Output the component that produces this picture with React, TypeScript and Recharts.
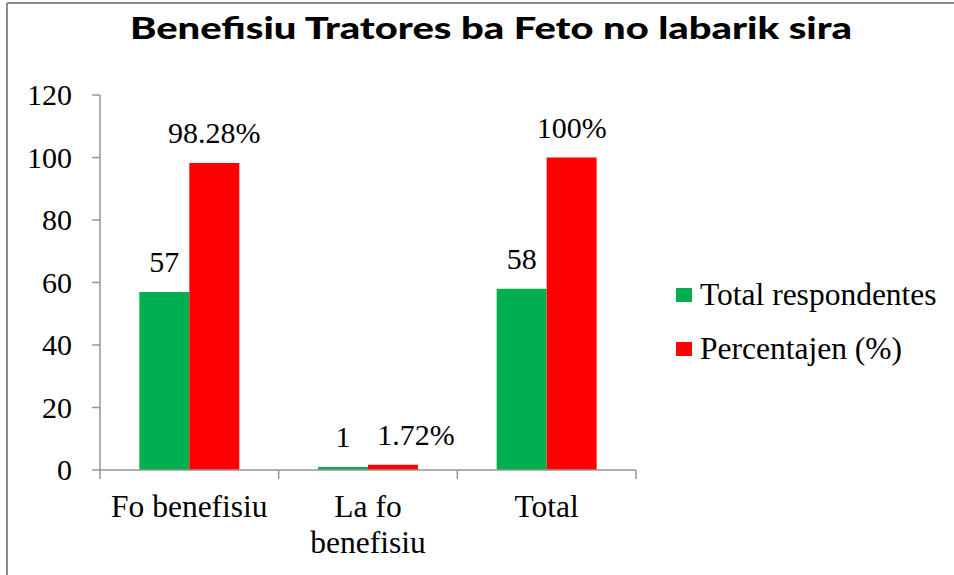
import { BarChart, Bar, XAxis, YAxis, Legend, LabelList } from 'recharts';

const categories = ['Fo benefisiu', 'La fo benefisiu', 'Total'];
const totalRespondentes = [57, 1, 58];
const percentajen = [98.28, 1.72, 100];
const yTicks = [0, 20, 40, 60, 80, 100, 120];

const GREEN = '#00B050';
const RED = '#FF0000';
const AXIS = '#969696';
const SERIF = '"Liberation Serif", serif';
const TXT = { fontFamily: SERIF, fontSize: 30 };

const W = 954;
const H = 575;
const MARGIN = { top: 95, right: 48, bottom: 15, left: 0 };
const LEGEND_W = 270;
const Y_AXIS_W = 100;
const HALF_BAND = (W - MARGIN.left - MARGIN.right - LEGEND_W - Y_AXIS_W) / categories.length / 2;

const data = categories.map((name, i) => ({
  name,
  total: totalRespondentes[i],
  pct: percentajen[i],
}));

// greedy word wrap by character count
function wrapLabel(s: string, max = 12) {
  const lines: string[] = [];
  let cur = '';
  for (const w of s.split(' ')) {
    const next = cur ? cur + ' ' + w : w;
    if (next.length > max && cur) {
      lines.push(cur);
      cur = w;
    } else cur = next;
  }
  if (cur) lines.push(cur);
  return lines;
}

function CategoryTick(props: any) {
  const { x, y, payload, index } = props;
  const axisY = y - 26;
  const half = payload?.offset || HALF_BAND;
  const lines = wrapLabel(String(payload.value));
  return (
    <g>
      <line x1={x - half} y1={axisY} x2={x - half} y2={axisY + 9} stroke={AXIS} strokeWidth={1.5} />
      {index === categories.length - 1 && (
        <line x1={x + half} y1={axisY} x2={x + half} y2={axisY + 9} stroke={AXIS} strokeWidth={1.5} />
      )}
      <text x={x} y={y + 21} textAnchor="middle" style={{ ...TXT, fontSize: 31.5 }} fill="#000">
        {lines.map((l, i) => (
          <tspan key={i} x={x} dy={i === 0 ? 0 : 36}>
            {l}
          </tspan>
        ))}
      </text>
    </g>
  );
}

function ValueTick(props: any) {
  const { x, y, payload } = props;
  return (
    <text x={x} y={y} dy={10} textAnchor="end" style={TXT} fill="#000">
      {payload.value}
    </text>
  );
}

// percent label; pushed right when the bar is too short and would collide with its neighbour's label
function PctLabel(props: any) {
  const { x, y, width, value } = props;
  const shift = value < 10 ? 23 : 0;
  return (
    <text x={x + width / 2 + shift} y={y - 20} textAnchor="middle" style={TXT} fill="#000">
      {`${value}%`}
    </text>
  );
}

function LegendBox() {
  const items = [
    { label: 'Total respondentes', color: GREEN },
    { label: 'Percentajen (%)', color: RED },
  ];
  return (
    <div style={{ width: LEGEND_W, ...TXT, fontSize: 31.5 }}>
      {items.map((it) => (
        <div key={it.label} style={{ display: 'flex', alignItems: 'center', height: 54, whiteSpace: 'nowrap' }}>
          <span style={{ display: 'inline-block', width: 16, height: 14, background: it.color, marginRight: 8 }} />
          <span>{it.label}</span>
        </div>
      ))}
    </div>
  );
}

export default function App() {
  return (
    <div style={{ position: 'relative', width: W, height: H, background: '#fff', overflow: 'hidden' }}>
      <style>{'body{margin:0}'}</style>
      <BarChart
        width={W}
        height={H}
        data={data}
        margin={MARGIN}
        barCategoryGap="22%"
        barGap={0}
        style={{ fontFamily: SERIF }}
      >
        <XAxis
          dataKey="name"
          axisLine={{ stroke: AXIS, strokeWidth: 1.5 }}
          tickLine={false}
          tickSize={9}
          tickMargin={17}
          height={90}
          interval={0}
          tick={<CategoryTick />}
        />
        <YAxis
          domain={[0, 120]}
          ticks={yTicks}
          width={Y_AXIS_W}
          axisLine={{ stroke: AXIS, strokeWidth: 1.5 }}
          tickLine={{ stroke: AXIS, strokeWidth: 1.5 }}
          tickSize={8}
          tickMargin={20}
          tick={<ValueTick />}
        />
        <Legend
          layout="vertical"
          align="right"
          verticalAlign="middle"
          content={<LegendBox />}
          wrapperStyle={{ left: 676, top: 268, width: LEGEND_W }}
        />
        <Bar dataKey="total" name="Total respondentes" fill={GREEN} isAnimationActive={false}>
          <LabelList dataKey="total" position="top" offset={20} style={TXT} fill="#000" />
        </Bar>
        <Bar dataKey="pct" name="Percentajen (%)" fill={RED} isAnimationActive={false}>
          <LabelList dataKey="pct" content={<PctLabel />} />
        </Bar>
      </BarChart>
      <svg
        width={W}
        height={H}
        style={{ position: 'absolute', left: 0, top: 0, pointerEvents: 'none' }}
      >
        <line x1={7} y1={3} x2={W} y2={3} stroke="#8c8c8c" strokeWidth={2} />
        <line x1={7} y1={3} x2={7} y2={H} stroke="#8c8c8c" strokeWidth={2} />
        <text
          x={491}
          y={39}
          textAnchor="middle"
          fontFamily='Lato, "Liberation Sans", Arial, sans-serif'
          fontWeight={900}
          fontSize={31}
          textLength={722}
          lengthAdjust="spacingAndGlyphs"
          fill="#000"
        >
          Benefisiu Tratores ba Feto no labarik sira
        </text>
      </svg>
    </div>
  );
}
